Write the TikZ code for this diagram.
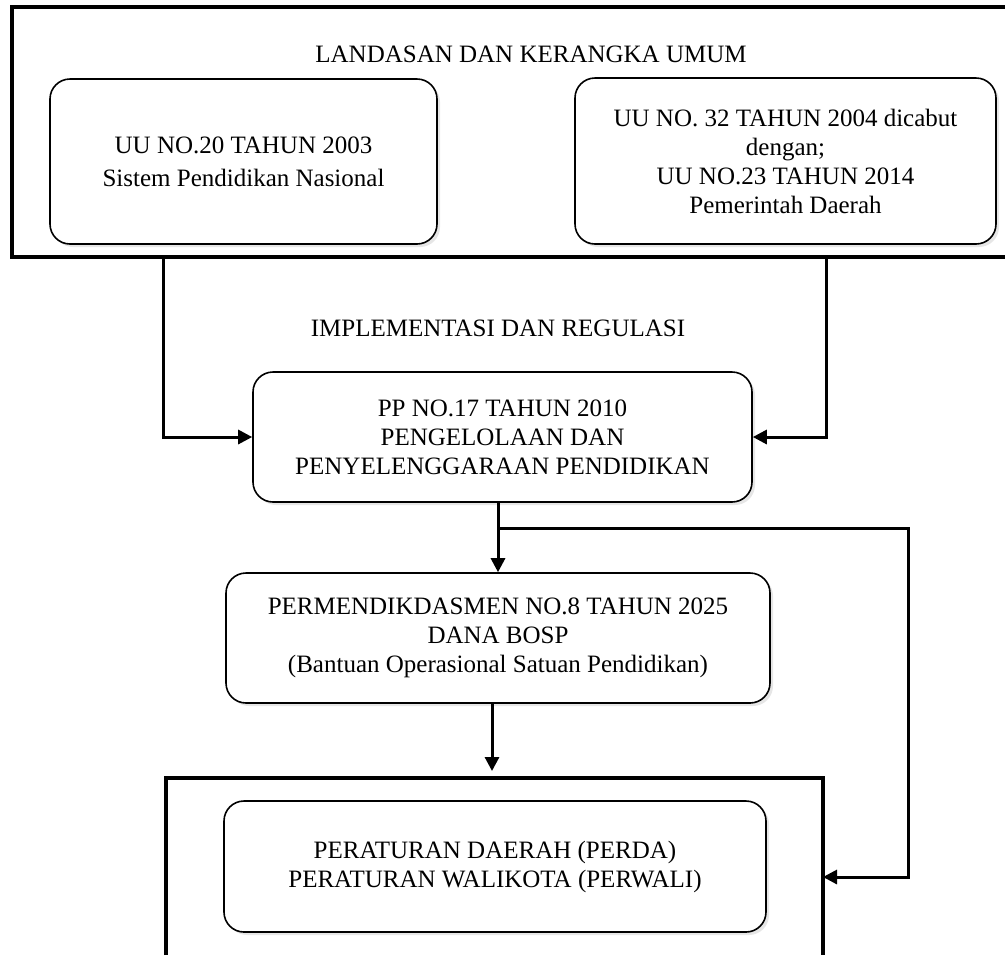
\documentclass[tikz,border=0pt]{standalone}
\usepackage{fontspec}
\setmainfont{Liberation Serif}
\usetikzlibrary{arrows.meta,shadows}

\begin{document}
\begin{tikzpicture}[x=0.5pt,y=-0.5pt,
    box/.style={draw, line width=0.8pt, rounded corners=10pt, fill=white, align=center,
        font=\fontsize{12.5}{14.5}\selectfont, inner sep=0pt,
        drop shadow={opacity=0.2, shadow xshift=1.5pt, shadow yshift=-1.5pt}},
    frame/.style={line width=1.8pt},
    arr/.style={line width=1.5pt, -{Triangle[length=7pt,width=7pt]}},
    title/.style={font=\fontsize{12.5}{14.5}\selectfont}]
    \useasboundingbox (0,0) rectangle (1005,955);

    % Frames
    \draw[frame] (1005,7) -- (12,7) -- (12,257) -- (1005,257);
    \draw[frame] (166,955) -- (166,778) -- (823,778) -- (823,955);

    % Titles
    \node[title] (landasan) at (531,54) {LANDASAN DAN KERANGKA UMUM};
    \node[title] (implementasi) at (498,328) {IMPLEMENTASI DAN REGULASI};

    % Boxes
    \node[box, minimum width=193.5pt, minimum height=82.5pt] (uu20) at (243.5,161.5)
        {UU NO.20 TAHUN 2003\\[2pt]Sistem Pendidikan Nasional};
    \node[box, minimum width=210.5pt, minimum height=83pt] (uu23) at (785.5,161)
        {UU NO. 32 TAHUN 2004 dicabut\\dengan;\\UU NO.23 TAHUN 2014\\Pemerintah Daerah};
    \node[box, minimum width=249.5pt, minimum height=65pt] (pp) at (502.5,437)
        {PP NO.17 TAHUN 2010\\PENGELOLAAN DAN\\PENYELENGGARAAN PENDIDIKAN};
    \node[box, minimum width=272pt, minimum height=65pt] (permen) at (498,638)
        {PERMENDIKDASMEN NO.8 TAHUN 2025\\DANA BOSP\\(Bantuan Operasional Satuan Pendidikan)};
    \node[box, minimum width=271pt, minimum height=65.5pt] (perda) at (495,866.5)
        {PERATURAN DAERAH (PERDA)\\PERATURAN WALIKOTA (PERWALI)};

    % Connector ends
    \coordinate (left) at (163,257);
    \coordinate (right) at (826,257);
    \coordinate (split) at (498,528);
    \coordinate (side) at (908,528);
    \coordinate (perdaR) at (823,877);
    \coordinate (perdaT) at (492,771);

    % Arrows
    \draw[arr] (left) |- (pp.west);
    \draw[arr] (right) |- (pp.east);
    \draw[arr] (pp.south -| split) -- (permen.north -| split);
    \draw[arr] (split) -- (side) |- (perdaR);
    \draw[arr] (permen.south -| perdaT) -- (perdaT);
\end{tikzpicture}
\end{document}
